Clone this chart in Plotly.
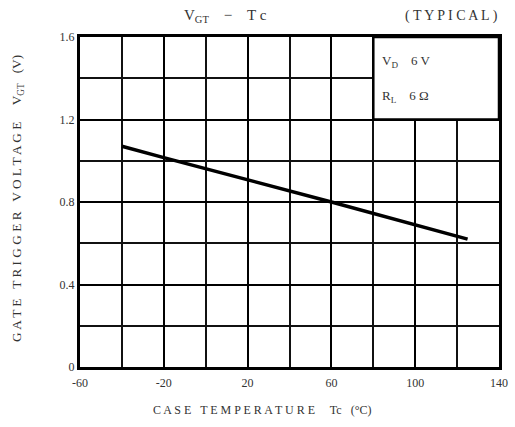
import plotly.graph_objects as go

# Data
temp_c = [-40, -20, 60, 100, 125]
vgt_v = [1.07, 1.015, 0.80, 0.69, 0.62]

x_tick_vals = [-60, -20, 20, 60, 100, 140]
x_tick_text = ["-60", "-20", "20", "60", "100", "140"]
y_tick_vals = [0, 0.4, 0.8, 1.2, 1.6]
y_tick_text = ["0", "0.4", "0.8", "1.2", "1.6"]

FONT = "Liberation Serif"
TXT = "#333333"

L, R, T, B = 80, 16, 37, 60
PW, PH = 515 - L - R, 427 - T - B

fig = go.Figure()
fig.add_trace(go.Scatter(x=temp_c, y=vgt_v, mode="lines",
                         line=dict(color="black", width=3.5),
                         showlegend=False, hoverinfo="skip"))

fig.update_layout(
    width=515, height=427,
    margin=dict(l=L, r=R, t=T, b=B, autoexpand=False),
    paper_bgcolor="white", plot_bgcolor="white",
    font=dict(family=FONT, color=TXT, size=12),
    xaxis=dict(range=[-60, 140], tickvals=x_tick_vals, ticktext=x_tick_text,
               showgrid=True, gridcolor="black", gridwidth=2,
               minor=dict(dtick=20, tick0=-60, showgrid=True, gridcolor="#111111", gridwidth=1.6),
               showline=True, linecolor="black", linewidth=3, mirror=True,
               ticks="", zeroline=False, tickfont=dict(size=12, color=TXT),
               automargin=False, ticklabelstandoff=3, fixedrange=True),
    yaxis=dict(range=[0, 1.6], tickvals=y_tick_vals, ticktext=y_tick_text,
               showgrid=True, gridcolor="black", gridwidth=2.2,
               minor=dict(dtick=0.2, tick0=0, showgrid=True, gridcolor="#111111", gridwidth=1.6),
               showline=True, linecolor="black", linewidth=3, mirror=True,
               ticks="", zeroline=False, tickfont=dict(size=12, color=TXT),
               automargin=False, fixedrange=True),
)

# Condition box (covers grid in top-right)
fig.add_shape(type="rect", xref="x", yref="y", x0=80, x1=140, y0=1.2, y1=1.6,
              fillcolor="white", line=dict(color="black", width=2.5), layer="above")

fig.add_annotation(x=83, y=1.48, xref="x", yref="y", xanchor="left", yanchor="middle",
                   text="V<sub>D</sub>    6 V", showarrow=False,
                   font=dict(family=FONT, size=13, color=TXT))
fig.add_annotation(x=83, y=1.31, xref="x", yref="y", xanchor="left", yanchor="middle",
                   text="R<sub>L</sub>    6 Ω", showarrow=False,
                   font=dict(family=FONT, size=13, color=TXT))

# Title
fig.add_annotation(xref="paper", yref="paper", x=(182 - L) / PW, y=1 + (T - 16) / PH,
                   xanchor="left", yanchor="middle", showarrow=False,
                   text="V<sub>GT</sub>    −    T c", font=dict(family=FONT, size=15, color=TXT))
fig.add_annotation(xref="paper", yref="paper", x=(500 - L) / PW, y=1 + (T - 16) / PH,
                   xanchor="right", yanchor="middle", showarrow=False,
                   text="( T Y P I C A L )", font=dict(family=FONT, size=14, color=TXT))

# Axis titles
fig.add_annotation(xref="paper", yref="paper", x=(262 - L) / PW, y=-(410 - (427 - B)) / PH,
                   xanchor="center", yanchor="middle", showarrow=False,
                   text="C A S E   T E M P E R A T U R E     Tc   (°C)",
                   font=dict(family=FONT, size=12, color=TXT))
fig.add_annotation(xref="paper", yref="paper", x=-(L - 17) / PW, y=((427 - B) - 199) / PH,
                   xanchor="center", yanchor="middle", showarrow=False, textangle=-90,
                   text="G A T E   T R I G G E R   V O L T A G E     V<sub>GT</sub>   (V)",
                   font=dict(family=FONT, size=13.3, color=TXT))

fig.write_html("out.html", config={"displayModeBar": False},
               post_script="document.body.style.margin='0px';document.body.style.overflow='hidden';")
